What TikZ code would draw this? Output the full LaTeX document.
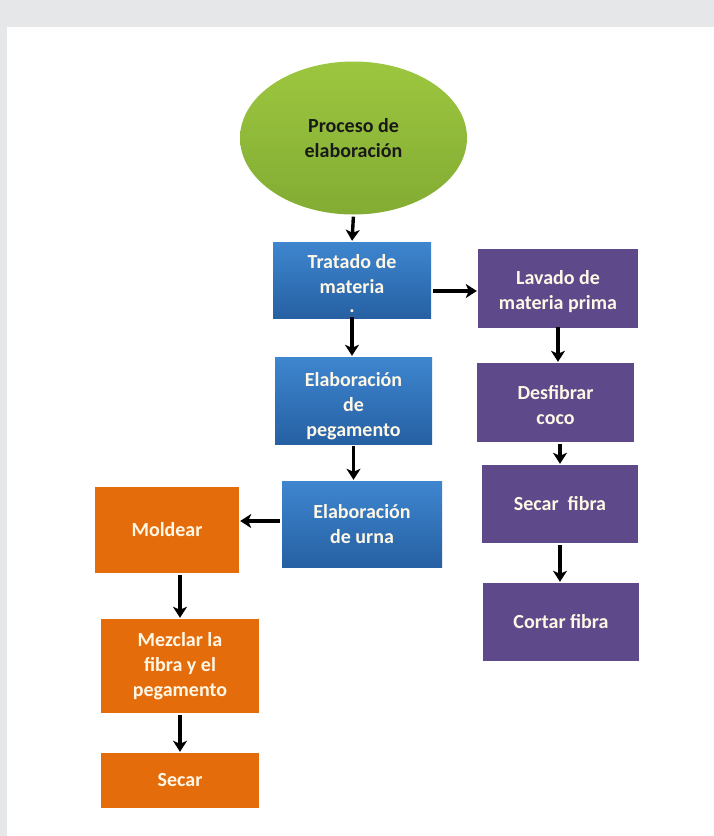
\documentclass[tikz,border=0pt]{standalone}
\usepackage{fontspec}
\setmainfont{Carlito}
\usetikzlibrary{arrows.meta,shapes.geometric,calc}
\definecolor{bgray}{HTML}{E6E7E9}
\definecolor{gtop}{HTML}{9DC63F}
\definecolor{gbot}{HTML}{82AC33}
\definecolor{btop}{HTML}{3E86CF}
\definecolor{bbot}{HTML}{2660A3}
\definecolor{purp}{HTML}{5E4A8A}
\definecolor{oran}{HTML}{E46C0A}
\definecolor{cream}{HTML}{FFF7E6}
\begin{document}
\begin{tikzpicture}[x=1pt,y=-1pt,
  txt/.style={font=\bfseries\fontsize{20}{25}\selectfont,align=center,text=cream,inner sep=0pt},
  bluebox/.style={txt,rectangle,top color=btop,bottom color=bbot,draw=none},
  purpbox/.style={txt,rectangle,fill=purp},
  orbox/.style={txt,rectangle,fill=oran},
  arr/.style={line width=3.4pt,-{Stealth[length=11pt,width=14pt,inset=3pt]},shorten <=2pt,shorten >=1pt}]
\useasboundingbox (0,0) rectangle (714,836);
\fill[bgray] (0,0) rectangle (714,27);
\fill[bgray] (0,0) rectangle (7,836);
\node[ellipse,top color=gtop,bottom color=gbot,minimum width=227pt,minimum height=153pt,inner sep=0pt,
  font=\bfseries\fontsize{20}{25}\selectfont,align=center,text=black!90] (el) at (353.5,138) {Proceso de\\elaboración};
\node[bluebox,minimum width=158pt,minimum height=76pt] (trat) at (352,280) {};
\node[txt] (tratt) at ([yshift=-4pt]trat.center) {Tratado de\\materia\\[-6pt].};
\node[purpbox,minimum width=160pt,minimum height=79pt] (lav) at (558,288.5) {};
\node[txt] (lavt) at ([yshift=-3pt]lav.center) {Lavado de\\materia prima};
\node[bluebox,minimum width=157pt,minimum height=87pt] (peg) at (353.5,400.5) {};
\node[txt] (pegt) at ([yshift=-6pt]peg.center) {Elaboración\\de\\pegamento};
\node[purpbox,minimum width=157pt,minimum height=79pt] (desf) at (555.5,402.5) {};
\node[txt] (desft) at ([yshift=-3pt]desf.center) {Desfibrar\\coco};
\node[bluebox,minimum width=160pt,minimum height=86pt] (urna) at (362,524) {Elaboración\\de urna};
\node[orbox,minimum width=144pt,minimum height=86pt] (mold) at (167,530) {Moldear};
\node[purpbox,minimum width=156pt,minimum height=78pt] (sf) at (560,504) {Secar\ \ fibra};
\node[purpbox,minimum width=156pt,minimum height=78pt] (cort) at (561,622) {Cortar fibra};
\node[orbox,minimum width=158pt,minimum height=94pt] (mez) at (180,666) {Mezclar la\\fibra y el\\pegamento};
\node[orbox,minimum width=158pt,minimum height=55pt] (sec) at (180,780.5) {Secar};
\coordinate (a1) at ($(trat.east)+(0,11)$);
\coordinate (a2) at ($(urna.west)+(0,-3)$);
\draw[arr] (el.south) -- (trat.north);
\draw[arr] (a1) -- (a1 -| lav.west);
\draw[arr] ([yshift=3pt]lav.south) -- (lav.south |- desf.north);
\draw[arr] ([yshift=3pt]trat.south) -- (trat.south |- peg.north);
\draw[arr] (peg.south) -- (peg.south |- urna.north);
\draw[arr] (a2) -- (a2 -| mold.east);
\draw[arr] (mez.north |- mold.south) -- (mez.north);
\draw[arr] (mez.south) -- (sec.north);
\draw[arr] (sf.north |- desf.south) -- (sf.north);
\draw[arr] (sf.south) -- (sf.south |- cort.north);
\end{tikzpicture}
\end{document}
